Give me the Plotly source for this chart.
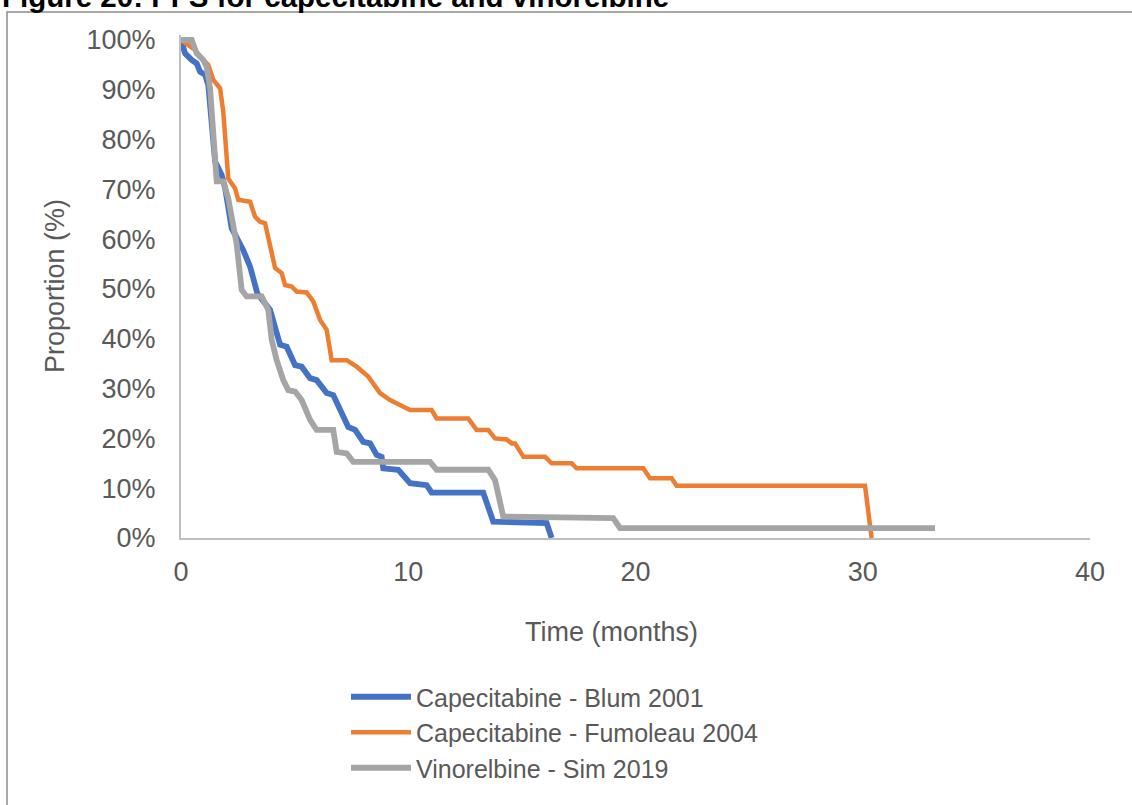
import plotly.graph_objects as go

# ---- data ----
t_blum = [0, 0.18, 0.47, 0.69, 0.84, 1.06, 1.2, 1.5, 1.79, 1.94, 2.23, 2.45, 2.74, 3.04, 3.36, 3.92,
          4.36, 4.65, 5.02, 5.31, 5.68, 5.97, 6.41, 6.70, 7.36, 7.66, 8.02, 8.32, 8.61, 8.83, 8.90,
          9.56, 10.08, 10.81, 11.03, 13.30, 13.74, 16.09, 16.31]
s_blum = [100, 97.3, 96, 95.3, 93.6, 93, 91, 75.6, 72.9, 70.3, 62.2, 60.5, 57.8, 54.5, 49.1, 45.8,
          38.8, 38.4, 34.7, 34.4, 32.1, 31.7, 29.1, 28.7, 22.3, 21.7, 19.3, 19.0, 16.7, 16.3, 14.0,
          13.7, 11.0, 10.6, 9.1, 9.1, 3.3, 3.0, 0]

t_fum = [0, 0.25, 0.62, 0.91, 1.2, 1.42, 1.72, 1.86, 2.01, 2.08, 2.38, 2.52, 3.04, 3.26, 3.48, 3.70,
         4.14, 4.43, 4.58, 4.87, 5.09, 5.53, 5.82, 6.12, 6.41, 6.63, 7.29, 7.73, 8.24, 8.76, 9.2,
         9.71, 10.08, 11.03, 11.25, 12.64, 13.01, 13.52, 13.82, 14.33, 14.55, 14.7, 15.07, 16.02,
         16.31, 17.19, 17.41, 20.34, 20.64, 21.59, 21.81, 30.1, 30.39]
s_fum = [100, 99.3, 98, 96.3, 95, 92, 90.3, 85.6, 77.6, 72.2, 70.2, 67.9, 67.5, 64.5, 63.5, 63.2,
         54.2, 53.2, 50.8, 50.5, 49.5, 49.3, 47.5, 43.8, 41.8, 35.7, 35.7, 34.4, 32.4, 29.1, 27.7,
         26.4, 25.7, 25.7, 24.0, 24.0, 21.7, 21.7, 20.0, 19.8, 19.0, 19.0, 16.3, 16.3,
         15.0, 15.0, 14.0, 14.0, 12.0, 12.0, 10.5, 10.5, 0]

t_sim = [0, 0.47, 0.69, 0.98, 1.13, 1.28, 1.57, 1.86, 2.08, 2.45, 2.67, 2.89, 3.55, 3.84, 3.99, 4.21,
         4.5, 4.72, 5.02, 5.31, 5.68, 5.97, 6.70, 6.85, 7.29, 7.58, 10.96, 11.25, 13.52, 13.82,
         14.18, 17.12, 19.02, 19.32, 33.18]
s_sim = [100, 100, 97.3, 96, 94.6, 90.3, 71.6, 71.6, 68.2, 59, 49.8, 48.5, 48.5, 45.8, 39.8, 35.7,
         31.7, 29.7, 29.4, 27.7, 23.7, 21.7, 21.7, 17.3, 17.0, 15.3, 15.3, 13.7, 13.7, 11.6,
         4.3, 4.0, 4.0, 2.0, 2.0]

names = ["Capecitabine - Blum 2001", "Capecitabine - Fumoleau 2004", "Vinorelbine - Sim 2019"]
x_ticks = [0, 10, 20, 30, 40]
y_ticks = [0, 10, 20, 30, 40, 50, 60, 70, 80, 90, 100]
y_tick_labels = [f"{v}%" for v in y_ticks]

# ---- layout helpers ----
W, H = 1132, 805
L, R, T, B = 181, 42, 35, 267
pw, ph = W - L - R, H - T - B
def px(x):
    return (x - L) / pw
def py(y):
    return (H - B - y) / ph

FONT = "Liberation Sans, Arial, sans-serif"
TXT = "#595959"
FS = 27

fig = go.Figure()
fig.add_trace(go.Scatter(x=t_blum, y=s_blum, mode="lines", name=names[0],
                         line=dict(color="#4472C4", width=5.8)))
fig.add_trace(go.Scatter(x=t_fum, y=s_fum, mode="lines", name=names[1],
                         line=dict(color="#ED7D31", width=4.5)))
fig.add_trace(go.Scatter(x=t_sim, y=s_sim, mode="lines", name=names[2],
                         line=dict(color="#A5A5A5", width=5.8)))

fig.update_layout(
    width=W, height=H,
    margin=dict(l=L, r=R, t=T, b=B, pad=0, autoexpand=False),
    paper_bgcolor="white", plot_bgcolor="white",
    font=dict(family=FONT, size=FS, color=TXT),
    showlegend=True,
    legend=dict(x=px(346), y=py(674), xanchor="left", yanchor="top",
                bgcolor="rgba(0,0,0,0)", font=dict(size=25, color=TXT),
                itemwidth=60, tracegroupgap=0),
    xaxis=dict(range=[0, 40], tickvals=x_ticks, showgrid=False, zeroline=False,
               showline=True, linecolor="#BFBFBF", linewidth=2,
               ticks="outside", ticklen=9, tickcolor="rgba(0,0,0,0)",
               tickfont=dict(size=FS, color=TXT)),
    yaxis=dict(range=[0, 101], tickvals=y_ticks, ticktext=y_tick_labels, showgrid=False,
               zeroline=False, showline=True, linecolor="#BFBFBF", linewidth=2,
               ticks="outside", ticklen=18, tickcolor="rgba(0,0,0,0)",
               tickfont=dict(size=FS, color=TXT)),
    annotations=[
        dict(text="Proportion (%)", x=px(55), y=py(286), xref="paper", yref="paper",
             showarrow=False, textangle=-90, font=dict(size=FS, color=TXT),
             xanchor="center", yanchor="middle"),
        dict(text="Time (months)", x=px(611), y=py(632), xref="paper", yref="paper",
             showarrow=False, font=dict(size=FS, color=TXT),
             xanchor="center", yanchor="middle"),
        dict(text="<b>Figure 20: PFS for capecitabine and vinorelbine</b>", x=px(0), y=py(15),
             xref="paper", yref="paper", showarrow=False,
             font=dict(size=29.5, color="#000000"), xanchor="left", yanchor="bottom"),
    ],
    shapes=[
        dict(type="rect", xref="paper", yref="paper", x0=px(7), x1=px(1145),
             y0=py(820), y1=py(12), line=dict(color="#8C8C8C", width=1.5),
             fillcolor="rgba(0,0,0,0)", layer="below"),
    ],
)

fig.write_html("out.html", config={"displayModeBar": False},
               post_script="document.body.style.margin='0';document.body.style.overflow='hidden';")
